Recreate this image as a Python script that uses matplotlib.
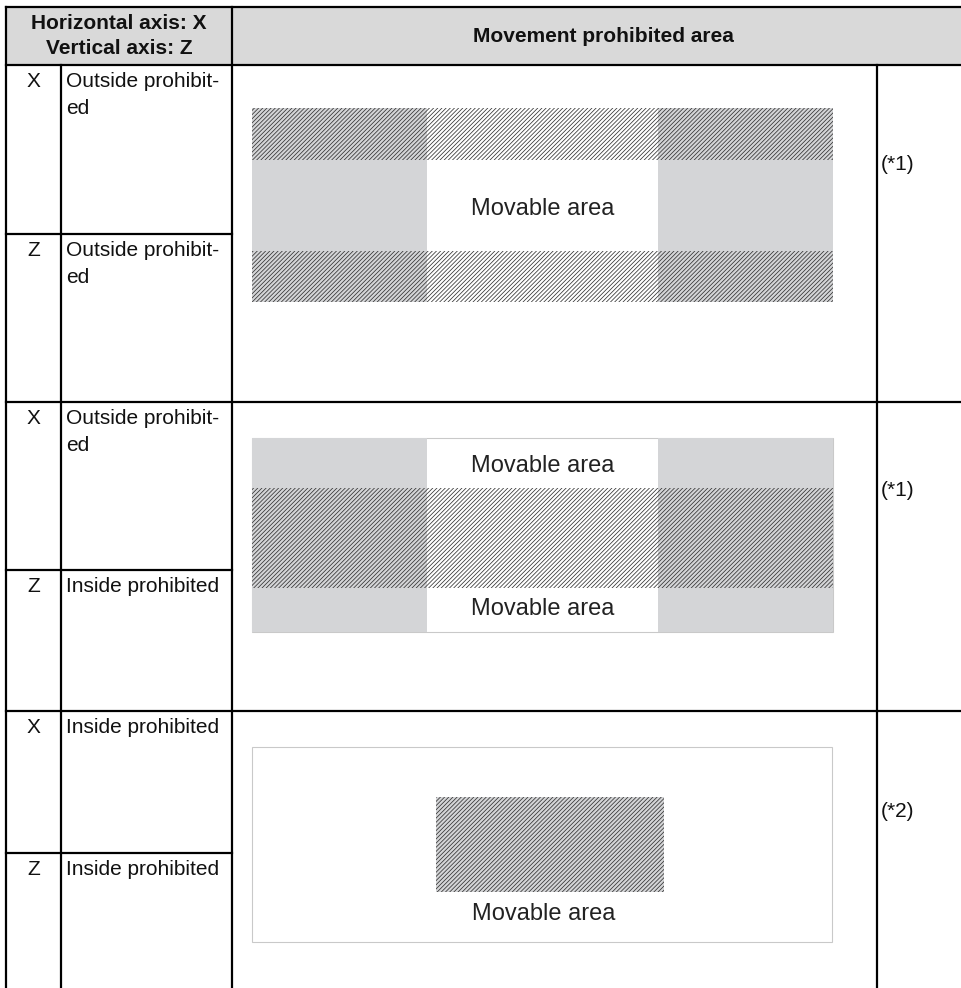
import matplotlib
matplotlib.use('Agg')
import matplotlib.pyplot as plt
from matplotlib.patches import Rectangle

plt.rcParams['font.family'] = ['Liberation Sans', 'DejaVu Sans']
plt.rcParams['hatch.linewidth'] = 0.55

# ---- content ----
header_left = "Horizontal axis: X\nVertical axis: Z"
header_right = "Movement prohibited area"
axis_names = ["X", "Z"]
x_settings = ["Outside prohibit-\ned", "Outside prohibit-\ned", "Inside prohibited"]
z_settings = ["Outside prohibit-\ned", "Inside prohibited", "Inside prohibited"]
notes = ["(*1)", "(*1)", "(*2)"]
movable_label = "Movable area"

# ---- layout (pixels) ----
W, H = 962, 988
col_x = [6, 61, 232, 877]
y_top, y_head = 7, 65
sec_top = [65, 402, 711]
sec_mid = [234, 570, 853]
sec_bot = [402, 711, 988]

GRAY = '#d4d5d7'
HEAD = '#d9d9d9'
HATCH_C = '#333333'
BORDER = '#c9c9c9'
TXT = '#111111'
MOV = '#222222'

fig = plt.figure(figsize=(W / 100, H / 100), dpi=100)
ax = fig.add_axes([0, 0, 1, 1])
ax.set_xlim(0, W)
ax.set_ylim(H, 0)
ax.axis('off')

LW = 1.6

# header fill
ax.add_patch(Rectangle((col_x[0], y_top), W - col_x[0], y_head - y_top,
                       facecolor=HEAD, edgecolor='none', zorder=0))

# table lines
def hline(y, xa, xb):
    ax.plot([xa, xb], [y, y], color='black', lw=LW, solid_capstyle='projecting', zorder=5)

def vline(x, ya, yb):
    ax.plot([x, x], [ya, yb], color='black', lw=LW, solid_capstyle='projecting', zorder=5)

hline(y_top, col_x[0], W + 5)
hline(y_head, col_x[0], W + 5)
for yb in sec_bot[:-1]:
    hline(yb, col_x[0], W + 5)
for ym in sec_mid:
    hline(ym, col_x[0], col_x[2])
vline(col_x[0], y_top, H + 5)
vline(col_x[2], y_top, H + 5)
vline(col_x[1], y_head, H + 5)
vline(col_x[3], y_head, H + 5)

# header texts
ax.text((col_x[0] + col_x[2]) / 2, 36, header_left, ha='center', va='center',
        fontsize=15, fontweight='bold', linespacing=1.4, color=TXT)
ax.text(603, 36, header_right, ha='center', va='center',
        fontsize=15, fontweight='bold', color=TXT)

# row texts
for i in range(3):
    for j, (yt, lab) in enumerate([(sec_top[i], x_settings[i]), (sec_mid[i], z_settings[i])]):
        ax.text((col_x[0] + col_x[1]) / 2, yt + 7, axis_names[j], ha='center', va='top',
                fontsize=15, color=TXT)
        ax.text(col_x[1] + 5, yt + 7, lab, ha='left', va='top',
                fontsize=15, color=TXT, linespacing=1.55)

note_y = [164, 490, 811]
for i in range(3):
    ax.text(col_x[3] + 4, note_y[i], notes[i], ha='left', va='center', fontsize=15, color=TXT)

# ---- diagrams ----
def rect(x, y, w, h, fc, hatch=None, ec='none', lw=0, z=1):
    if hatch:
        ax.add_patch(Rectangle((x, y), w, h, facecolor=fc, edgecolor='none', lw=0, zorder=z))
        ax.add_patch(Rectangle((x, y), w, h, facecolor='none', edgecolor=HATCH_C,
                               hatch=hatch, lw=0, zorder=z + 0.5))
    else:
        ax.add_patch(Rectangle((x, y), w, h, facecolor=fc, edgecolor=ec, lw=lw, zorder=z))

bx0, bx1 = 252, 833
cx0, cx1 = 427, 658
HT = '////////'

# section 1: outside/outside
s1 = [108, 160, 251, 302]
rect(bx0, s1[0], cx0 - bx0, s1[3] - s1[0], GRAY)
rect(cx1, s1[0], bx1 - cx1, s1[3] - s1[0], GRAY)
rect(bx0, s1[0], bx1 - bx0, s1[1] - s1[0], 'none', hatch=HT, z=2)
rect(bx0, s1[2], bx1 - bx0, s1[3] - s1[2], 'none', hatch=HT, z=2)
ax.text((cx0 + cx1) / 2, 209, movable_label, ha='center', va='center', fontsize=17, color=MOV, zorder=4)

# section 2: outside/inside
s2 = [438, 488, 588, 632]
rect(bx0, s2[0], bx1 - bx0, s2[3] - s2[0], 'white', ec=BORDER, lw=0.8)
rect(bx0, s2[0], cx0 - bx0, s2[3] - s2[0], GRAY)
rect(cx1, s2[0], bx1 - cx1, s2[3] - s2[0], GRAY)
rect(bx0, s2[1], bx1 - bx0, s2[2] - s2[1], 'none', hatch=HT, z=2)
ax.text((cx0 + cx1) / 2, 466, movable_label, ha='center', va='center', fontsize=17, color=MOV, zorder=4)
ax.text((cx0 + cx1) / 2, 609, movable_label, ha='center', va='center', fontsize=17, color=MOV, zorder=4)

# section 3: inside/inside
s3 = [747, 942]
rect(bx0, s3[0], 832 - bx0, s3[1] - s3[0], 'white', ec=BORDER, lw=0.8)
rect(436, 797, 664 - 436, 892 - 797, GRAY, hatch=HT, z=2)
ax.text(544, 914, movable_label, ha='center', va='center', fontsize=17, color=MOV, zorder=4)

fig.savefig('out.png', dpi=100, facecolor='white')
